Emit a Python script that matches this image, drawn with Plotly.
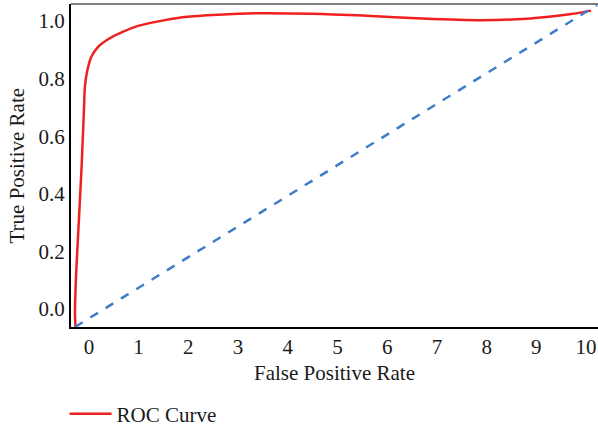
import plotly.graph_objects as go

roc_x = [-0.27, -0.28, -0.26, -0.215, -0.147, -0.10, -0.08, -0.03, 0.05, 0.19, 0.42, 0.69, 0.99, 1.53, 1.93,
         2.6, 3.44, 4.5, 5.59, 6.7, 7.87, 8.6, 9.2, 9.7, 10.1]
roc_y = [-0.0625, -0.014, 0.11, 0.264, 0.493, 0.691, 0.772, 0.83, 0.876, 0.911, 0.94, 0.963, 0.983, 1.003, 1.014,
         1.022, 1.027, 1.025, 1.018, 1.009, 1.003, 1.006, 1.014, 1.024, 1.036]

diag_x = [-0.28, 10.22]
diag_y = [-0.0625, 1.055]

x_ticks = [0, 1, 2, 3, 4, 5, 6, 7, 8, 9, 10]
y_ticks = [0.0, 0.2, 0.4, 0.6, 0.8, 1.0]

FONT = "Liberation Serif"
FS = 21

fig = go.Figure()
fig.add_trace(go.Scatter(x=roc_x, y=roc_y, mode="lines", name="ROC Curve",
                         line=dict(color="#f02020", width=2.5, shape="spline", smoothing=0.8)))
fig.add_trace(go.Scatter(x=diag_x, y=diag_y, mode="lines", showlegend=False,
                         line=dict(color="#3f7dc8", width=2.5, dash="dash")))

fig.update_layout(
    width=598, height=427,
    margin=dict(l=71, r=0, t=4, b=100),
    plot_bgcolor="white", paper_bgcolor="white",
    font=dict(family=FONT, size=FS, color="#1a1a1a"),
    showlegend=True,
    legend=dict(orientation="h", xref="container", yref="container",
                x=0.108, xanchor="left", y=0.03, yanchor="middle", itemwidth=42,
                font=dict(family=FONT, size=FS, color="#1a1a1a")),
    xaxis=dict(range=[-0.36, 10.24], tickvals=x_ticks, showgrid=False, zeroline=False,
               showline=True, linecolor="black", linewidth=2, ticks="", automargin=False,
               tickfont=dict(size=FS)),
    yaxis=dict(range=[-0.0625, 1.059], tickvals=y_ticks, tickformat=".1f", showgrid=False,
               zeroline=False, showline=True, linecolor="black", linewidth=2, ticks="",
               automargin=False, tickfont=dict(size=FS)),
    shapes=[dict(type="line", xref="paper", yref="paper", x0=0, x1=1, y0=1, y1=1,
                 line=dict(color="black", width=1))],
    annotations=[
        dict(text="False Positive Rate", xref="paper", yref="paper", x=0.5, y=-0.142,
             xanchor="center", yanchor="middle", showarrow=False, font=dict(size=FS)),
        dict(text="True Positive Rate", xref="paper", yref="paper", x=-0.1025, y=0.5,
             xanchor="center", yanchor="middle", textangle=-90, showarrow=False, font=dict(size=FS)),
    ],
)

fig.write_html("out.html", config={"displayModeBar": False},
               post_script="document.body.style.margin='0';document.body.style.overflow='hidden';")
